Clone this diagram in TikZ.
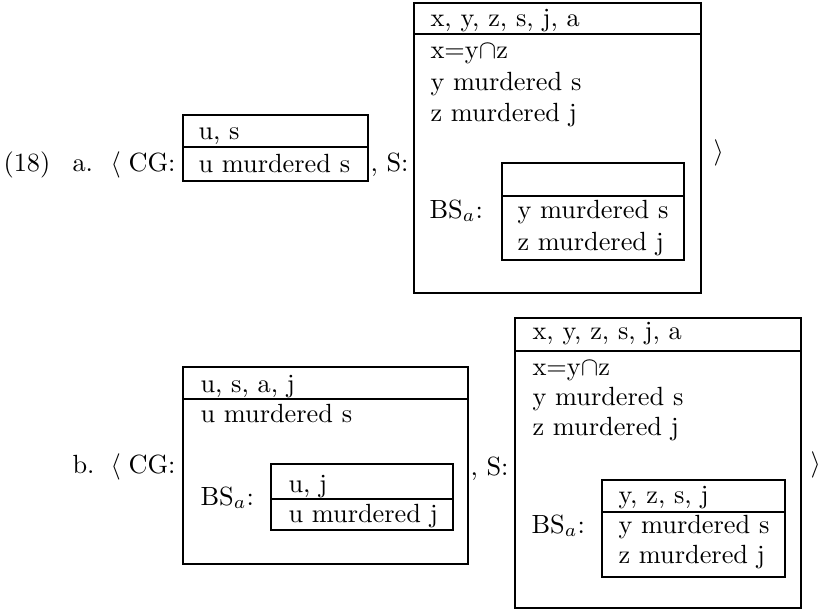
\documentclass[tikz,border=0pt]{standalone}
\begin{document}
\begin{tikzpicture}[x=0.38pt, y=-0.38pt,
  lbl/.style={anchor=base west, inner sep=0pt, font=\normalsize},
  drs/.style={draw, line width=0.7pt}]
\useasboundingbox (0,0) rectangle (820,610);

% ---------- (18a) ----------
\node[lbl] (p18)  at (3,171)   {(18)};
\node[lbl] (la)   at (72,171)  {a.};
\node[lbl] (angA) at (110,171) {$\langle$};
\node[lbl] (cgA)  at (128,171) {CG:};

% common ground box
\draw[drs] (183,115) rectangle (368,181);
\draw[drs] (183,147) -- (368,147);
\node[lbl] (cgAh) at (198,139) {u, s};
\node[lbl] (cgA1) at (198,172) {u murdered s};

\node[lbl] (sA) at (370,171) {, S:};

% speaker box
\draw[drs] (414,3) rectangle (701,293);
\draw[drs] (414,34) -- (701,34);
\node[lbl] (sAh) at (430,26)  {x, y, z, s, j, a};
\node[lbl] (sA1) at (430,58)  {x=y$\cap$z};
\node[lbl] (sA2) at (430,90)  {y murdered s};
\node[lbl] (sA3) at (430,121) {z murdered j};
\node[lbl] (bsA) at (429,218) {BS$_a$:};
\draw[drs] (502,163) rectangle (684,260);
\draw[drs] (502,196) -- (684,196);
\node[lbl] (bsA1) at (517,218) {y murdered s};
\node[lbl] (bsA2) at (517,250) {z murdered j};

\node[lbl] (rangA) at (713,159) {$\rangle$};

% ---------- (18b) ----------
\node[lbl] (lb)   at (72,473)  {b.};
\node[lbl] (angB) at (110,473) {$\langle$};
\node[lbl] (cgB)  at (128,473) {CG:};

\draw[drs] (183,367) rectangle (468,564);
\draw[drs] (183,399) -- (468,399);
\node[lbl] (cgBh) at (200,392) {u, s, a, j};
\node[lbl] (cgB1) at (200,422) {u murdered s};
\node[lbl] (bsB)  at (200,505) {BS$_a$:};
\draw[drs] (271,464) rectangle (453,530);
\draw[drs] (271,499) -- (453,499);
\node[lbl] (bsBh) at (288,492) {u, j};
\node[lbl] (bsB1) at (288,522) {u murdered j};

\node[lbl] (sB) at (470,475) {, S:};

\draw[drs] (515,318) rectangle (801,608);
\draw[drs] (515,351) -- (801,351);
\node[lbl] (sBh) at (532,339) {x, y, z, s, j, a};
\node[lbl] (sB1) at (532,375) {x=y$\cap$z};
\node[lbl] (sB2) at (532,405) {y murdered s};
\node[lbl] (sB3) at (532,435) {z murdered j};
\node[lbl] (bsC) at (531,533) {BS$_a$:};
\draw[drs] (602,480) rectangle (785,577);
\draw[drs] (602,512) -- (785,512);
\node[lbl] (bsCh) at (618,503) {y, z, s, j};
\node[lbl] (bsC1) at (618,533) {y murdered s};
\node[lbl] (bsC2) at (618,563) {z murdered j};

\node[lbl] (rangB) at (810,471) {$\rangle$};
\end{tikzpicture}
\end{document}
